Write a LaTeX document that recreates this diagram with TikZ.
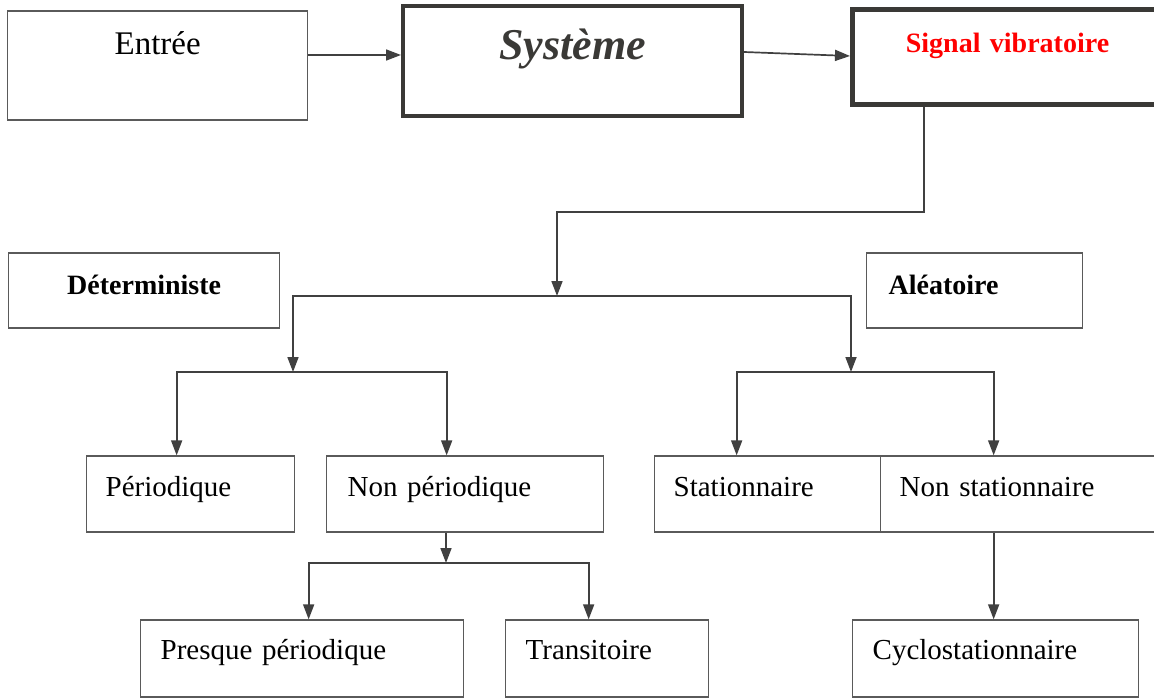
\documentclass[tikz,border=0pt]{standalone}
\usepackage{fontspec}
\setmainfont{Liberation Serif}
\usetikzlibrary{arrows.meta}
\definecolor{linec}{HTML}{404040}
\definecolor{boxc}{HTML}{5A5A5A}
\definecolor{systc}{HTML}{3A3936}
\begin{document}
\begin{tikzpicture}[x=1pt,y=-1pt,
  box/.style={draw=boxc,line width=1.3pt,inner ysep=0pt,anchor=base west,
    font=\fontsize{29}{34}\selectfont},
  lbox/.style={box,align=left},
  cbox/.style={box,align=center,inner xsep=0pt},
  thick box/.style={draw=systc,line width=4pt},
  arr/.style={draw=linec,line width=1.7pt,-{Triangle[length=15pt,width=11pt]}},
  ln/.style={draw=linec,line width=1.7pt}]
\useasboundingbox (0,0) rectangle (1154,698);
% top row
\node[cbox,text width=300pt,text height=44pt,text depth=65pt,
  font=\fontsize{33}{38}\selectfont] (ent) at (7,55) {Entrée};
\node[cbox,thick box,text width=339pt,text height=54pt,text depth=56pt,
  text=systc,font=\fontsize{44}{50}\selectfont\bfseries\itshape] (sys) at (401,60) {Système};
\node[cbox,draw=systc,line width=5pt,text width=310pt,text height=43pt,text depth=52pt,
  text=red,font=\fontsize{28}{32}\selectfont\bfseries] (sig) at (850,53) {Signal vibratoire};
% second row
\node[cbox,text width=271pt,text height=41pt,text depth=34pt,
  font=\fontsize{28}{32}\selectfont\bfseries] (det) at (8,294) {Déterministe};
\node[lbox,inner xsep=22pt,text width=172pt,text height=41pt,text depth=34pt,
  font=\fontsize{28}{32}\selectfont\bfseries] (ale) at (866,294) {Aléatoire};
% third row
\node[lbox,inner xsep=19pt,text width=170pt,text height=40pt,text depth=36pt] (per) at (86,496) {Périodique};
\node[lbox,inner xsep=21pt,text width=235pt,text height=40pt,text depth=36pt] (nper) at (326,496) {Non périodique};
\node[lbox,inner xsep=19pt,text width=188pt,text height=40pt,text depth=36pt] (sta) at (654,496) {Stationnaire};
\node[lbox,inner xsep=19pt,text width=242pt,text height=40pt,text depth=36pt] (nsta) at (880,496) {Non stationnaire};
% fourth row
\node[lbox,inner xsep=20pt,text width=283pt,text height=39pt,text depth=38pt] (pres) at (140,659) {Presque périodique};
\node[lbox,inner xsep=20pt,text width=163pt,text height=39pt,text depth=38pt] (tra) at (505,659) {Transitoire};
\node[lbox,inner xsep=20pt,text width=246pt,text height=39pt,text depth=38pt] (cyc) at (852,659) {Cyclostationnaire};
% connectors
\draw[arr] (ent.base east) -- (sys.west |- ent.base east);
\draw[arr] ([yshift=9pt]sys.east) -- ([yshift=1.5pt]sig.west);
\coordinate (s1) at (924,212);
\coordinate (t1) at (557,296);
\coordinate (t2) at (293,372);
\coordinate (t3) at (851,372);
\coordinate (t4) at (446,563);
\coordinate (t5) at ([xshift=-27pt]nsta.south);
\draw[arr] (sig.south -| s1) -- (s1) -| (t1);
\draw[arr] (t1) -| (t2);
\draw[arr] (t1) -| (t3);
\draw[arr] (t2) -| ([xshift=-14pt]per.north);
\draw[arr] (t2) -| ([xshift=-18.5pt]nper.north);
\draw[arr] (t3) -| ([xshift=-31pt]sta.north);
\draw[arr] (t3) -| ([xshift=-27pt]nsta.north);
\draw[arr] (nper.south -| t4) -- (t4);
\draw[arr] (t4) -| ([xshift=6.5pt]pres.north);
\draw[arr] (t4) -| ([xshift=-18.5pt]tra.north);
\draw[arr] (t5) -- (cyc.north -| t5);
\end{tikzpicture}
\end{document}
